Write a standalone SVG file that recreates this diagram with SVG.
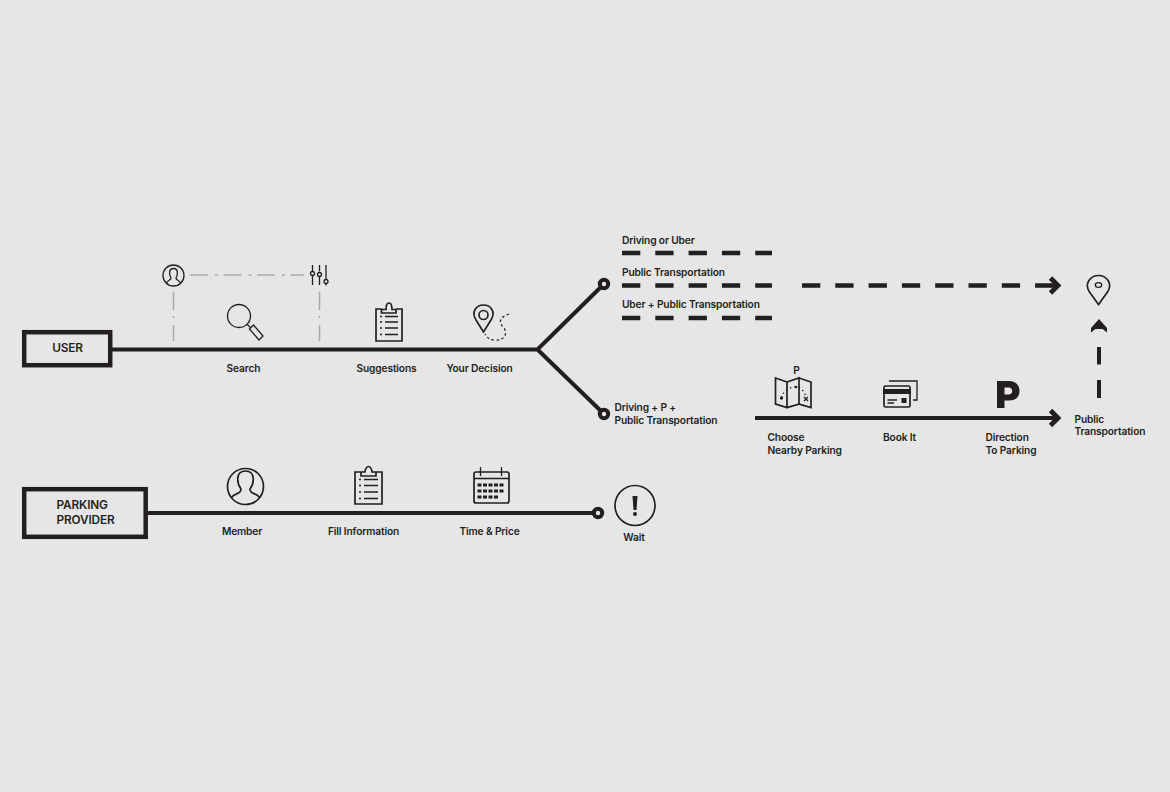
<svg xmlns="http://www.w3.org/2000/svg" width="1170" height="792" viewBox="0 0 1170 792">
<style>
text{font-family:"Inter","Liberation Sans",sans-serif;font-weight:600;font-size:10.2px;fill:#231f20;letter-spacing:-.14px}
.box{fill:none;stroke:#231f20;stroke-width:4.5}
.big{font-size:11.8px}
.main{fill:none;stroke:#231f20;stroke-width:4}
.head{fill:none;stroke:#231f20;stroke-width:4.8}
.dash{fill:none;stroke:#231f20;stroke-width:4.6;stroke-dasharray:18.3 15}
.end{fill:#e6e6e6;stroke:#231f20;stroke-width:4}
.gray{fill:none;stroke:#a9a9a9;stroke-width:1.5}
.ic{fill:none;stroke:#231f20;stroke-width:1.3}
.ict{fill:none;stroke:#231f20;stroke-width:1.7}
.fill{fill:#231f20;stroke:none}
</style>
<rect width="1170" height="792" fill="#e6e6e6"/>
<g id="connectors">
<path class="main" d="M112 349.500H537.500L604 284M537.500 349.500L604 414"/>
<path class="main" d="M148 513H598"/>
<path class="main" d="M755 418H1057"/>
<path class="head" d="M1050.500 410.500L1058 418L1050.500 425.500"/>
<path class="dash" d="M622 253H772M622 285.500H772M622 318H772"/>
<path class="dash" d="M802 285.500H1052"/>
<path class="main" d="M1050 285.500H1057"/>
<path class="head" d="M1050.500 278L1058 285.500L1050.500 293"/>
<path class="main" d="M1099 398V347" stroke-dasharray="18 15.500"/>
<path class="fill" d="M1099 319L1107 328V332.500L1102.500 329H1095.500L1091 332.500V328Z"/>
<path class="gray" d="M190 275H304" stroke-dasharray="18 7 3 5.500"/>
<path class="gray" d="M173.500 291.500V341M319.500 291.500V341" stroke-dasharray="18.500 6 2 7 16"/>
</g>
<circle class="end" cx="604" cy="284" r="4.200"/>
<circle class="end" cx="604" cy="414" r="4.200"/>
<circle class="end" cx="598" cy="513" r="4.200"/>
<g id="user"><rect class="box" x="24.200" y="332.200" width="86" height="33"/><text class="big" x="67.500" y="351.500" text-anchor="middle">USER</text></g>
<g id="parking-provider"><rect class="box" x="24.200" y="489.200" width="121.500" height="47.600"/><text class="big" x="56.500" y="508.500">PARKING</text><text class="big" x="56.500" y="523.500">PROVIDER</text></g>
<g id="profile-icon"><circle class="ic" stroke-width="1" cx="173.500" cy="275.500" r="10.500"/><path class="ic" stroke-width=".9" d="M166.500 283.500C167 280 171 280.500 171 278C169 275 168.500 268.500 173.500 268.500S178 275 176 278C176 280.500 180 280 180.500 283.500"/></g>
<g id="filters-icon"><path class="ic" d="M312.500 265V271M312.500 276V285M319.500 265V271.500M319.500 277V285M326 265V279M326 284V285.500"/><circle class="ic" cx="312.500" cy="273.500" r="2"/><circle class="ic" cx="319.500" cy="274.500" r="2"/><circle class="ic" cx="326" cy="281.500" r="2"/></g>
<g id="search"><circle class="ic" stroke-width="1.500" cx="239" cy="316" r="11.500"/><path class="ic" stroke-width="1.500" d="M247 324.500L250.500 327.500M249.500 329L253.500 325L263 336L259 340Z"/><text x="243.500" y="372" text-anchor="middle">Search</text></g>
<g id="suggestions"><path class="ict" d="M381.500 309H376V341H402V309H396M381.500 313H396V309.500H392C392 305 391 303 389 303S386 305 386 309.500H381.500Z"/><path class="ic" stroke-width="1.500" d="M380 316.500H382M385 316.500H398M380 322H382M385 322H398M380 328H382M385 328H398M380 334.500H382M385 334.500H398"/><text x="386.500" y="372" text-anchor="middle">Suggestions</text></g>
<g id="decision"><path class="ict" stroke-width="1.500" d="M483.500 332L476 320C471 312 476 305 483.500 305S496 312 491 320Z"/><circle class="ict" cx="483.500" cy="315" r="4.500"/><path class="ic" stroke-width="1.500" stroke-dasharray="2.500 2.500" d="M509 314C498 318 499 323 504 328C508 334 504 341 495 340C490 340 487 338 485 334"/><text x="479.500" y="372" text-anchor="middle">Your Decision</text></g>
<g id="branches"><text x="622" y="244">Driving or Uber</text><text x="622" y="276">Public Transportation</text><text x="622" y="308">Uber + Public Transportation</text><text x="614.500" y="411">Driving + P +</text><text x="614.500" y="424">Public Transportation</text></g>
<g id="choose-parking"><path class="ict" stroke-width="1.400" d="M775.500 378L787 382V407.500L775.500 404ZM787 382L799 378V404L787 407.500ZM799 378L811 382V407.500L799 404Z"/><path class="ic" stroke-dasharray="1.500 3" stroke-width="1.500" d="M781.500 398C784 388 792 387 796 387C801 387 804 391 806 397"/><circle class="fill" cx="781.500" cy="398" r="1.700"/><circle class="fill" cx="796" cy="387" r="1.300"/><path class="ic" stroke-width="1.500" d="M804 397L808 401M808 397L804 401"/><text x="796.500" y="374" text-anchor="middle">P</text><text x="767.500" y="441">Choose</text><text x="767.500" y="454">Nearby Parking</text></g>
<g id="book"><path class="ic" stroke-width="1.300" d="M889 381H917V400H913"/><rect class="ict" x="884" y="386" width="26" height="21" rx="1.500"/><rect class="fill" x="883" y="389" width="28" height="5"/><path class="ic" d="M887.500 400H897M887.500 403H894"/><rect class="fill" x="901.500" y="398" width="5" height="5"/><text x="883" y="441">Book It</text></g>
<g id="direction"><path class="fill" d="M997 381H1009C1015.500 381 1019.500 385 1019.500 391S1015.500 400.500 1009 400.500H1004.500V408H997ZM1004.500 387.500V394.500H1008.500C1011 394.500 1012.200 393 1012.200 391S1011 387.500 1008.500 387.500Z"/><text x="985.500" y="441">Direction</text><text x="985.500" y="454">To Parking</text></g>
<g id="public-transportation"><path class="ict" stroke-width="1.300" d="M1098.500 304.500L1089.500 292C1084 284 1090 275.500 1098.500 275.500S1113 284 1107.500 292Z"/><ellipse class="ic" stroke-width="1.400" cx="1098.500" cy="285" rx="3.200" ry="2.300"/><text x="1074.500" y="423">Public</text><text x="1074.500" y="435">Transportation</text></g>
<g id="member"><circle class="ict" stroke-width="1.500" cx="245.500" cy="486.500" r="18"/><path class="ict" stroke-width="1.500" d="M231 498C235 492 241 495 241 489C237 484 235 471 245.500 471S254 484 250 489C250 495 256 492 260 498"/><text x="242" y="535" text-anchor="middle">Member</text></g>
<g id="fill-information"><path class="ict" d="M361 472H355V504H382V472H376M361 476H376V472H372C372 469 370 466.500 368.500 466.500S365 469 365 472H361Z"/><path class="ic" stroke-width="1.500" d="M359 479.500H361M364 479.500H378M359 485.500H361M364 485.500H378M359 492H361M364 492H378M359 498.500H361M364 498.500H378"/><text x="363.500" y="535" text-anchor="middle">Fill Information</text></g>
<g id="time-price"><rect class="ict" x="474" y="472" width="35" height="31" rx="2"/><path class="ic" d="M474 478.500H509M480.500 467V476M501.500 467V476"/><path class="fill" d="M477.500 483.500h4v3h-4zM483 483.500h4v3h-4zM488.500 483.500h4v3h-4zM494 483.500h4v3h-4zM499.500 483.500h4v3h-4zM477.500 489.500h4v3h-4zM483 489.500h4v3h-4zM488.500 489.500h4v3h-4zM494 489.500h4v3h-4zM499.500 489.500h4v3h-4zM477.500 495.500h4v3h-4zM483 495.500h4v3h-4zM488.500 495.500h4v3h-4zM494 495.500h4v3h-4z"/><text x="489.500" y="535" text-anchor="middle">Time &amp; Price</text></g>
<g id="wait"><circle class="ict" stroke-width="2" cx="635" cy="505.500" r="20"/><path class="fill" d="M632.500 496H637.500L636.500 510H633.500Z"/><circle class="fill" cx="635" cy="514" r="2"/><text x="634" y="541" text-anchor="middle">Wait</text></g>
</svg>
